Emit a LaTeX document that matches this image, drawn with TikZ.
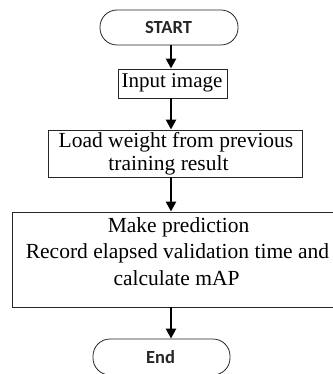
\documentclass[tikz,border=0pt]{standalone}
\usepackage{fontspec}
\setmainfont{Liberation Serif}
\newfontfamily\termfont{Carlito}
\usetikzlibrary{arrows.meta}
\begin{document}
\begin{tikzpicture}[x=1pt,y=-1pt,
  term/.style={draw=black!85, line width=0.8pt, rounded corners=17pt, minimum height=35pt, inner sep=0pt},
  box/.style={draw=black!85, line width=0.9pt, inner sep=0pt},
  txt/.style={font=\fontsize{21.5}{25}\selectfont, inner sep=0pt, anchor=base},
  ttxt/.style={font=\termfont\bfseries\fontsize{18.5}{22}\selectfont, text=black!85, inner sep=0pt, anchor=base},
  flow/.style={line width=2.4pt, -{Triangle[width=10pt,length=10pt]}}]
\useasboundingbox (0,0) rectangle (332,374);
\coordinate (axis) at (171,0);
% shapes
\node[term, minimum width=138pt] (start) at (169,27.5) {};
\node[box, minimum width=109pt, minimum height=29pt] (input) at (172.5,83.5) {};
\node[box, minimum width=254pt, minimum height=47pt] (load) at (175,153.5) {};
\node[box, minimum width=333pt, minimum height=95pt] (pred) at (178.5,259.5) {};
\node[term, minimum width=137pt, minimum height=36pt] (end) at (161.5,357) {};
% texts
\node[ttxt] (tstart) at (168.5,34) {START};
\node[txt, font=\fontsize{21}{25}\selectfont] (tinput) at (172,88) {Input image};
\node[txt] (tload1) at (176,147) {Load weight from previous};
\node[txt] (tload2) at (168.5,170) {training result};
\node[txt] (tpred1) at (178.5,232) {Make prediction};
\node[txt] (tpred2) at (177.5,258) {Record elapsed validation time and};
\node[txt] (tpred3) at (176.5,285) {calculate mAP};
\node[ttxt] (tend) at (160.5,363) {End};
% connectors
\draw[flow] (start.south -| axis) -- (input.north -| axis);
\draw[flow] (input.south -| axis) -- (load.north -| axis);
\draw[flow] (load.south -| axis) -- (pred.north -| axis);
\draw[flow] (pred.south -| axis) -- (end.north -| axis);
\end{tikzpicture}
\end{document}
